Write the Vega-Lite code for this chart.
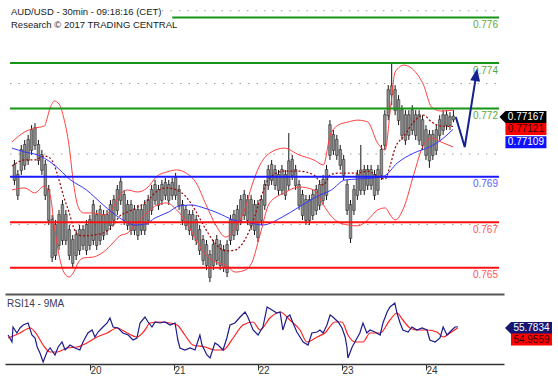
{
"$schema":"https://vega.github.io/schema/vega-lite/v6.json",
"padding":{"left":5,"top":3,"right":0,"bottom":0},
"spacing":1,
"config":{"view":{"stroke":null},"font":"Liberation Sans","text":{"font":"Liberation Sans"}},
"datasets":{
"candles":[
{"t":1,"o":0.76954,"h":0.76974,"l":0.76864,"c":0.76884},
{"t":2,"o":0.7691,"h":0.7693,"l":0.76798,"c":0.76818},
{"t":3,"o":0.76928,"h":0.7704,"l":0.76908,"c":0.7702},
{"t":4,"o":0.7695,"h":0.77062,"l":0.7693,"c":0.77042},
{"t":5,"o":0.76972,"h":0.77084,"l":0.76952,"c":0.77064},
{"t":6,"o":0.77016,"h":0.77127,"l":0.76996,"c":0.77107},
{"t":7,"o":0.77038,"h":0.77136,"l":0.77018,"c":0.77116},
{"t":8,"o":0.77042,"h":0.77062,"l":0.76952,"c":0.76972},
{"t":9,"o":0.76998,"h":0.77018,"l":0.76908,"c":0.76928},
{"t":10,"o":0.76954,"h":0.76974,"l":0.76798,"c":0.76818},
{"t":11,"o":0.76844,"h":0.76864,"l":0.76688,"c":0.76708},
{"t":12,"o":0.76712,"h":0.76732,"l":0.76525,"c":0.76545},
{"t":13,"o":0.7669,"h":0.7671,"l":0.76534,"c":0.76554},
{"t":14,"o":0.76598,"h":0.76754,"l":0.76578,"c":0.76734},
{"t":15,"o":0.7662,"h":0.76798,"l":0.766,"c":0.76778},
{"t":16,"o":0.76734,"h":0.76754,"l":0.766,"c":0.7662},
{"t":17,"o":0.76668,"h":0.76688,"l":0.76534,"c":0.76554},
{"t":18,"o":0.76624,"h":0.76644,"l":0.76499,"c":0.76519},
{"t":19,"o":0.76554,"h":0.76666,"l":0.76534,"c":0.76646},
{"t":20,"o":0.76576,"h":0.76688,"l":0.76556,"c":0.76668},
{"t":21,"o":0.76668,"h":0.76688,"l":0.76578,"c":0.76598},
{"t":22,"o":0.76576,"h":0.7671,"l":0.76556,"c":0.7669},
{"t":23,"o":0.76598,"h":0.76732,"l":0.76578,"c":0.76712},
{"t":24,"o":0.7662,"h":0.76798,"l":0.766,"c":0.76778},
{"t":25,"o":0.76734,"h":0.76754,"l":0.76578,"c":0.76598},
{"t":26,"o":0.7662,"h":0.76776,"l":0.766,"c":0.76756},
{"t":27,"o":0.76734,"h":0.76754,"l":0.76622,"c":0.76642},
{"t":28,"o":0.76664,"h":0.76754,"l":0.76644,"c":0.76734},
{"t":29,"o":0.76686,"h":0.76798,"l":0.76666,"c":0.76778},
{"t":30,"o":0.76708,"h":0.7682,"l":0.76688,"c":0.768},
{"t":31,"o":0.76752,"h":0.76864,"l":0.76732,"c":0.76844},
{"t":32,"o":0.76796,"h":0.76899,"l":0.76776,"c":0.76879},
{"t":33,"o":0.76822,"h":0.76842,"l":0.76688,"c":0.76708},
{"t":34,"o":0.76778,"h":0.76798,"l":0.76666,"c":0.76686},
{"t":35,"o":0.76778,"h":0.76798,"l":0.76644,"c":0.76664},
{"t":36,"o":0.76664,"h":0.76776,"l":0.76644,"c":0.76756},
{"t":37,"o":0.76756,"h":0.76776,"l":0.76622,"c":0.76642},
{"t":38,"o":0.76664,"h":0.76776,"l":0.76644,"c":0.76756},
{"t":39,"o":0.76664,"h":0.76798,"l":0.76644,"c":0.76778},
{"t":40,"o":0.76708,"h":0.7682,"l":0.76688,"c":0.768},
{"t":41,"o":0.76752,"h":0.76864,"l":0.76732,"c":0.76844},
{"t":42,"o":0.76796,"h":0.76886,"l":0.76776,"c":0.76866},
{"t":43,"o":0.76844,"h":0.76864,"l":0.76754,"c":0.76774},
{"t":44,"o":0.76796,"h":0.76886,"l":0.76776,"c":0.76866},
{"t":45,"o":0.76818,"h":0.76895,"l":0.76798,"c":0.76875},
{"t":46,"o":0.76866,"h":0.76886,"l":0.76776,"c":0.76796},
{"t":47,"o":0.76818,"h":0.76895,"l":0.76798,"c":0.76875},
{"t":48,"o":0.76818,"h":0.76917,"l":0.76798,"c":0.76897},
{"t":49,"o":0.76844,"h":0.76864,"l":0.76754,"c":0.76774},
{"t":50,"o":0.76778,"h":0.76798,"l":0.76688,"c":0.76708},
{"t":51,"o":0.76756,"h":0.76776,"l":0.76666,"c":0.76686},
{"t":52,"o":0.76734,"h":0.76754,"l":0.76644,"c":0.76664},
{"t":53,"o":0.76734,"h":0.76754,"l":0.76622,"c":0.76642},
{"t":54,"o":0.76712,"h":0.76732,"l":0.766,"c":0.7662},
{"t":55,"o":0.76668,"h":0.76688,"l":0.76556,"c":0.76576},
{"t":56,"o":0.76624,"h":0.76644,"l":0.76512,"c":0.76532},
{"t":57,"o":0.76602,"h":0.76622,"l":0.7649,"c":0.7651},
{"t":58,"o":0.76558,"h":0.76578,"l":0.76437,"c":0.76457},
{"t":59,"o":0.7651,"h":0.76622,"l":0.7649,"c":0.76602},
{"t":60,"o":0.76532,"h":0.76644,"l":0.76512,"c":0.76624},
{"t":61,"o":0.76602,"h":0.76622,"l":0.7649,"c":0.7651},
{"t":62,"o":0.7658,"h":0.766,"l":0.76481,"c":0.76501},
{"t":63,"o":0.76479,"h":0.76622,"l":0.76459,"c":0.76602},
{"t":64,"o":0.7662,"h":0.76732,"l":0.766,"c":0.76712},
{"t":65,"o":0.76642,"h":0.76754,"l":0.76622,"c":0.76734},
{"t":66,"o":0.76664,"h":0.76776,"l":0.76644,"c":0.76756},
{"t":67,"o":0.76708,"h":0.7682,"l":0.76688,"c":0.768},
{"t":68,"o":0.7673,"h":0.76842,"l":0.7671,"c":0.76822},
{"t":69,"o":0.768,"h":0.7682,"l":0.76688,"c":0.76708},
{"t":70,"o":0.768,"h":0.7682,"l":0.76666,"c":0.76686},
{"t":71,"o":0.76778,"h":0.76798,"l":0.76644,"c":0.76664},
{"t":72,"o":0.76778,"h":0.76798,"l":0.76613,"c":0.76633},
{"t":73,"o":0.76708,"h":0.7682,"l":0.76688,"c":0.768},
{"t":74,"o":0.76774,"h":0.76886,"l":0.76754,"c":0.76866},
{"t":75,"o":0.76862,"h":0.76952,"l":0.76842,"c":0.76932},
{"t":76,"o":0.76884,"h":0.76974,"l":0.76864,"c":0.76954},
{"t":77,"o":0.76932,"h":0.76952,"l":0.76842,"c":0.76862},
{"t":78,"o":0.7691,"h":0.7693,"l":0.7682,"c":0.7684},
{"t":79,"o":0.7684,"h":0.76952,"l":0.7682,"c":0.76932},
{"t":80,"o":0.7691,"h":0.7693,"l":0.76798,"c":0.76818},
{"t":81,"o":0.76862,"h":0.77092,"l":0.76842,"c":0.7697},
{"t":82,"o":0.76906,"h":0.76996,"l":0.76886,"c":0.76976},
{"t":83,"o":0.76932,"h":0.76952,"l":0.76842,"c":0.76862},
{"t":84,"o":0.76866,"h":0.76886,"l":0.76754,"c":0.76774},
{"t":85,"o":0.76822,"h":0.76842,"l":0.7671,"c":0.7673},
{"t":86,"o":0.768,"h":0.7682,"l":0.76688,"c":0.76708},
{"t":87,"o":0.76708,"h":0.7682,"l":0.76688,"c":0.768},
{"t":88,"o":0.7673,"h":0.76842,"l":0.7671,"c":0.76822},
{"t":89,"o":0.76752,"h":0.76864,"l":0.76732,"c":0.76844},
{"t":90,"o":0.76774,"h":0.76886,"l":0.76754,"c":0.76866},
{"t":91,"o":0.76796,"h":0.76908,"l":0.76776,"c":0.76888},
{"t":92,"o":0.76818,"h":0.76952,"l":0.76798,"c":0.76932},
{"t":93,"o":0.76994,"h":0.77149,"l":0.76974,"c":0.77129},
{"t":94,"o":0.77086,"h":0.77106,"l":0.76996,"c":0.77016},
{"t":95,"o":0.77064,"h":0.77084,"l":0.76974,"c":0.76994},
{"t":96,"o":0.7702,"h":0.7704,"l":0.7693,"c":0.7695},
{"t":97,"o":0.76976,"h":0.76996,"l":0.76886,"c":0.76906},
{"t":98,"o":0.76866,"h":0.76886,"l":0.76732,"c":0.76752},
{"t":99,"o":0.76778,"h":0.76798,"l":0.76609,"c":0.76629},
{"t":100,"o":0.76752,"h":0.76864,"l":0.76732,"c":0.76844},
{"t":101,"o":0.76818,"h":0.7693,"l":0.76798,"c":0.7691},
{"t":102,"o":0.7684,"h":0.7704,"l":0.7682,"c":0.7693},
{"t":103,"o":0.76932,"h":0.76952,"l":0.7682,"c":0.7684},
{"t":104,"o":0.76862,"h":0.76952,"l":0.76842,"c":0.76932},
{"t":105,"o":0.76932,"h":0.76952,"l":0.76842,"c":0.76862},
{"t":106,"o":0.7691,"h":0.7693,"l":0.76798,"c":0.76818},
{"t":107,"o":0.7684,"h":0.76952,"l":0.7682,"c":0.76932},
{"t":108,"o":0.76906,"h":0.7704,"l":0.76886,"c":0.7702},
{"t":109,"o":0.77038,"h":0.77193,"l":0.77018,"c":0.77173},
{"t":110,"o":0.77169,"h":0.77303,"l":0.77149,"c":0.77283},
{"t":111,"o":0.7726,"h":0.77404,"l":0.77215,"c":0.773},
{"t":112,"o":0.77283,"h":0.77303,"l":0.77171,"c":0.77191},
{"t":113,"o":0.77239,"h":0.77259,"l":0.77127,"c":0.77147},
{"t":114,"o":0.77195,"h":0.77215,"l":0.77062,"c":0.77082},
{"t":115,"o":0.77173,"h":0.77193,"l":0.7704,"c":0.7706},
{"t":116,"o":0.77082,"h":0.77193,"l":0.77062,"c":0.77173},
{"t":117,"o":0.77104,"h":0.77215,"l":0.77084,"c":0.77195},
{"t":118,"o":0.77173,"h":0.77193,"l":0.77062,"c":0.77082},
{"t":119,"o":0.77173,"h":0.77193,"l":0.7704,"c":0.7706},
{"t":120,"o":0.77151,"h":0.77171,"l":0.77018,"c":0.77038},
{"t":121,"o":0.77107,"h":0.77127,"l":0.76974,"c":0.76994},
{"t":122,"o":0.77086,"h":0.77106,"l":0.76939,"c":0.7697},
{"t":123,"o":0.76994,"h":0.77106,"l":0.76974,"c":0.77086},
{"t":124,"o":0.77016,"h":0.77127,"l":0.76996,"c":0.77107},
{"t":125,"o":0.77082,"h":0.77171,"l":0.77062,"c":0.77151},
{"t":126,"o":0.77104,"h":0.77193,"l":0.77084,"c":0.77173},
{"t":127,"o":0.77173,"h":0.77193,"l":0.77106,"c":0.77126},
{"t":128,"o":0.77126,"h":0.77184,"l":0.77106,"c":0.77164},
{"t":129,"o":0.7715,"h":0.77193,"l":0.7714,"c":0.77167}
],
"bb":[
{"t":0.3,"up":0.77053,"mid":0.76947,"lo":0.76842},
{"t":4,"up":0.77097,"mid":0.76974,"lo":0.76851},
{"t":6.9,"up":0.77114,"mid":0.76974,"lo":0.76829},
{"t":9.7,"up":0.77123,"mid":0.76991,"lo":0.76859},
{"t":11.4,"up":0.77202,"mid":0.76982,"lo":0.7682},
{"t":12.6,"up":0.77233,"mid":0.76952,"lo":0.76688},
{"t":14,"up":0.7722,"mid":0.76886,"lo":0.76556},
{"t":15.4,"up":0.77158,"mid":0.76811,"lo":0.76481},
{"t":16.9,"up":0.7704,"mid":0.76745,"lo":0.76459},
{"t":18.3,"up":0.76864,"mid":0.76675,"lo":0.76481},
{"t":19.7,"up":0.76763,"mid":0.76644,"lo":0.76525},
{"t":21.1,"up":0.76741,"mid":0.7664,"lo":0.76543},
{"t":24,"up":0.76741,"mid":0.76644,"lo":0.76547},
{"t":26.9,"up":0.76732,"mid":0.76653,"lo":0.76569},
{"t":29.7,"up":0.76763,"mid":0.76684,"lo":0.76609},
{"t":31.7,"up":0.7682,"mid":0.76727,"lo":0.7664},
{"t":34,"up":0.76842,"mid":0.76745,"lo":0.76653},
{"t":36.9,"up":0.76833,"mid":0.76767,"lo":0.76701},
{"t":39.7,"up":0.76851,"mid":0.76793,"lo":0.76741},
{"t":42.6,"up":0.76903,"mid":0.76837,"lo":0.76776},
{"t":45.4,"up":0.76921,"mid":0.76851,"lo":0.76785},
{"t":48.3,"up":0.7693,"mid":0.76842,"lo":0.76754},
{"t":51.1,"up":0.76916,"mid":0.76811,"lo":0.76701},
{"t":54,"up":0.76873,"mid":0.76745,"lo":0.76622},
{"t":56.9,"up":0.76776,"mid":0.76666,"lo":0.76556},
{"t":59.7,"up":0.76688,"mid":0.76604,"lo":0.76525},
{"t":62.6,"up":0.76635,"mid":0.76574,"lo":0.76512},
{"t":65.4,"up":0.76675,"mid":0.76578,"lo":0.76481},
{"t":68.3,"up":0.76763,"mid":0.76626,"lo":0.7649},
{"t":70.3,"up":0.76864,"mid":0.76692,"lo":0.76525},
{"t":72.6,"up":0.76952,"mid":0.76798,"lo":0.76644},
{"t":75.4,"up":0.77004,"mid":0.76895,"lo":0.76785},
{"t":79.7,"up":0.77026,"mid":0.76925,"lo":0.76829},
{"t":84,"up":0.76996,"mid":0.76925,"lo":0.76855},
{"t":88.3,"up":0.76974,"mid":0.76908,"lo":0.76842},
{"t":91.1,"up":0.76952,"mid":0.76864,"lo":0.76776},
{"t":93.1,"up":0.77084,"mid":0.76908,"lo":0.76732},
{"t":95.4,"up":0.77127,"mid":0.76916,"lo":0.76701},
{"t":98.3,"up":0.77141,"mid":0.76916,"lo":0.76688},
{"t":101.1,"up":0.77149,"mid":0.76916,"lo":0.76684},
{"t":104,"up":0.77141,"mid":0.76925,"lo":0.7671},
{"t":106.9,"up":0.77048,"mid":0.76903,"lo":0.76754},
{"t":109.1,"up":0.77018,"mid":0.7689,"lo":0.76763},
{"t":110.6,"up":0.77193,"mid":0.76952,"lo":0.76732},
{"t":112,"up":0.7736,"mid":0.77026,"lo":0.7671},
{"t":114.6,"up":0.77391,"mid":0.77079,"lo":0.76767},
{"t":117.4,"up":0.77369,"mid":0.77141,"lo":0.76908},
{"t":120.3,"up":0.77303,"mid":0.77171,"lo":0.7704},
{"t":122.6,"up":0.77207,"mid":0.77141,"lo":0.7707},
{"t":125.4,"up":0.77189,"mid":0.77123,"lo":0.77053},
{"t":128.9,"up":0.77193,"mid":0.77121,"lo":0.77031}
],
"ma":[
{"t":0.3,"p":0.77026},{"t":4,"p":0.77009},{"t":7.7,"p":0.76996},{"t":9.7,"p":0.76982},{"t":12.6,"p":0.76952},{"t":17.4,"p":0.76886},{"t":22,"p":0.76842},{"t":26.9,"p":0.76776},{"t":31.7,"p":0.76719},{"t":36.3,"p":0.76688},{"t":39.1,"p":0.76692},{"t":42,"p":0.76719},{"t":46,"p":0.76745},{"t":48.9,"p":0.76771},{"t":52.6,"p":0.76776},{"t":55.4,"p":0.76767},{"t":60.3,"p":0.76741},{"t":64.9,"p":0.7671},{"t":69.7,"p":0.76697},{"t":73.4,"p":0.76688},{"t":79.1,"p":0.76723},{"t":84,"p":0.76767},{"t":88.9,"p":0.76811},{"t":93.4,"p":0.76842},{"t":97.4,"p":0.76886},{"t":101.1,"p":0.7689},{"t":106,"p":0.76895},{"t":108.9,"p":0.76904},{"t":112.6,"p":0.7696},{"t":117.4,"p":0.77004},{"t":122,"p":0.77031},{"t":125.4,"p":0.77062},{"t":128.9,"p":0.77109}
],
"levels":[
{"v":0.776,"kind":"R","from":47},{"v":0.774,"kind":"R","from":-0.29},{"v":0.772,"kind":"R","from":-0.29},{"v":0.769,"kind":"P","from":-0.29},{"v":0.767,"kind":"S","from":-0.29},{"v":0.765,"kind":"S","from":-0.29}
],
"grid":[
{"v":0.7763,"from":44},{"v":0.7731,"from":-0.29},{"v":0.77,"from":-0.29},{"v":0.7669,"from":-0.29}
],
"rsi":[
{"t":0.6,"v":49.2},{"t":1.7,"v":43.6},{"t":2,"v":55.6},{"t":3.1,"v":50.8},{"t":4,"v":54.8},{"t":4.9,"v":57.2},{"t":6.3,"v":58.8},{"t":7.4,"v":49.2},{"t":8.3,"v":46.8},{"t":8.9,"v":39.6},{"t":9.7,"v":34.8},{"t":10.6,"v":27.6},{"t":11.7,"v":35.6},{"t":12.6,"v":38.8},{"t":14,"v":33.2},{"t":14.9,"v":39.6},{"t":16,"v":43.6},{"t":16.9,"v":37.2},{"t":18.3,"v":41.2},{"t":19.7,"v":38.8},{"t":21.1,"v":37.2},{"t":22,"v":43.6},{"t":23.4,"v":50.8},{"t":24.6,"v":53.2},{"t":25.4,"v":47.6},{"t":26.3,"v":51.6},{"t":27.7,"v":55.6},{"t":28.9,"v":58.8},{"t":29.7,"v":62.8},{"t":30.6,"v":55.6},{"t":32,"v":54.8},{"t":33.4,"v":50.8},{"t":34.9,"v":49.2},{"t":36.3,"v":45.2},{"t":37.4,"v":46.8},{"t":38.3,"v":58.8},{"t":39.7,"v":63.6},{"t":40.6,"v":59.6},{"t":41.7,"v":55.6},{"t":42.6,"v":59.6},{"t":44,"v":58.8},{"t":45.4,"v":59.6},{"t":46.9,"v":57.2},{"t":48.3,"v":58.8},{"t":49.1,"v":45.2},{"t":49.7,"v":38.8},{"t":51.1,"v":37.2},{"t":52.6,"v":38.8},{"t":54,"v":37.2},{"t":55.4,"v":49.2},{"t":56,"v":41.2},{"t":57.4,"v":33.2},{"t":58.3,"v":30.8},{"t":59.7,"v":42.8},{"t":60.6,"v":41.2},{"t":62,"v":37.2},{"t":63.1,"v":46.8},{"t":64,"v":57.2},{"t":65.4,"v":58.8},{"t":66.9,"v":63.6},{"t":68.3,"v":67.6},{"t":69.1,"v":63.6},{"t":70.6,"v":53.2},{"t":72,"v":49.2},{"t":73.4,"v":55.6},{"t":74.6,"v":71.6},{"t":76,"v":69.2},{"t":77.4,"v":66.8},{"t":78.3,"v":67.6},{"t":79.1,"v":53.2},{"t":80.3,"v":63.6},{"t":81.1,"v":65.2},{"t":82,"v":58.8},{"t":83.1,"v":51.6},{"t":84,"v":47.6},{"t":84.9,"v":43.6},{"t":86.3,"v":41.2},{"t":87.4,"v":50.8},{"t":88.9,"v":51.6},{"t":89.7,"v":53.2},{"t":90.6,"v":50.8},{"t":91.7,"v":57.2},{"t":92.6,"v":65.2},{"t":93.4,"v":63.6},{"t":94.9,"v":59.6},{"t":96,"v":54.8},{"t":96.9,"v":47.6},{"t":97.4,"v":39.6},{"t":97.7,"v":30.8},{"t":98.9,"v":39.6},{"t":99.7,"v":43.6},{"t":101.1,"v":50.8},{"t":102,"v":58.8},{"t":103.1,"v":50.8},{"t":104,"v":53.2},{"t":105.4,"v":51.6},{"t":106.9,"v":49.2},{"t":107.7,"v":58.8},{"t":108.9,"v":67.6},{"t":109.7,"v":71.6},{"t":111.1,"v":74.8},{"t":111.7,"v":66.8},{"t":112.6,"v":58.8},{"t":113.4,"v":53.2},{"t":114.9,"v":51.6},{"t":116,"v":55.6},{"t":117.4,"v":53.2},{"t":118.9,"v":54.8},{"t":120.3,"v":53.2},{"t":121.1,"v":45.2},{"t":122.6,"v":43.6},{"t":124,"v":46.8},{"t":124.9,"v":55.6},{"t":126,"v":49.2},{"t":127.4,"v":53.2},{"t":128.3,"v":55.6},{"t":129.1,"v":55.78}
],
"rsima":[
{"t":0.6,"v":46.8},{"t":4,"v":50.8},{"t":6.9,"v":54.8},{"t":8.9,"v":49.2},{"t":10.6,"v":41.2},{"t":12.6,"v":35.6},{"t":14.6,"v":35.6},{"t":17.4,"v":38.8},{"t":20.3,"v":39.6},{"t":23.1,"v":42.8},{"t":26,"v":47.6},{"t":28.9,"v":50.8},{"t":31.7,"v":54.8},{"t":34.6,"v":50.8},{"t":37.4,"v":47.6},{"t":39.7,"v":53.2},{"t":41.1,"v":58.8},{"t":44,"v":59.6},{"t":46.9,"v":58.8},{"t":48.9,"v":57.2},{"t":51.1,"v":49.2},{"t":53.4,"v":41.2},{"t":56.9,"v":39.6},{"t":59.7,"v":37.2},{"t":62,"v":37.2},{"t":64.9,"v":46.8},{"t":67.7,"v":57.2},{"t":70.6,"v":59.6},{"t":72.6,"v":53.2},{"t":75.4,"v":62.8},{"t":78.3,"v":67.6},{"t":81.1,"v":61.2},{"t":84,"v":53.2},{"t":86,"v":43.6},{"t":88.9,"v":47.6},{"t":91.1,"v":50.8},{"t":94,"v":59.6},{"t":96,"v":59.6},{"t":97.7,"v":49.2},{"t":99.7,"v":43.6},{"t":102,"v":43.6},{"t":104,"v":50.8},{"t":106.9,"v":50.8},{"t":109.7,"v":61.2},{"t":111.7,"v":66.8},{"t":113.4,"v":61.2},{"t":115.4,"v":54.8},{"t":117.4,"v":53.2},{"t":120.3,"v":53.2},{"t":123.1,"v":51.6},{"t":124.9,"v":47.6},{"t":126.9,"v":50.8},{"t":129.1,"v":54.96}
]
},
"vconcat":[
{
"width":499,"height":290,
"resolve":{"scale":{"color":"independent"}},
"layer":[
{"data":{"name":"grid"},"mark":{"type":"rule","color":"#a0a0a0","strokeDash":[1.5,7],"strokeWidth":1},
"encoding":{
"x":{"field":"from","type":"quantitative","scale":{"domain":[-0.29,142.29],"nice":false,"zero":false},"axis":{"orient":"top","ticks":false,"labels":false,"domainColor":"#111","domainWidth":1.5,"grid":false,"title":null}},
"x2":{"datum":142.29},
"y":{"field":"v","type":"quantitative","scale":{"domain":[0.76389,0.77664],"nice":false,"zero":false},"axis":{"orient":"right","values":[0.7669,0.77,0.7731,0.7763],"format":".4f","tickSize":4,"tickColor":"#111","domainColor":"#111","domainWidth":1.5,"labelPadding":11,"labelFontSize":10,"labelColor":"#333","grid":false,"title":null}}}},
{"data":{"name":"candles"},"mark":{"type":"rule","color":"#151515","strokeWidth":1},
"encoding":{"x":{"field":"t","type":"quantitative","axis":null},"y":{"field":"l","type":"quantitative","axis":null},"y2":{"field":"h"}}},
{"data":{"name":"candles"},"mark":{"type":"bar","width":2.6,"color":"#8e8e8e","stroke":"#1a1a1a","strokeWidth":0.5},
"encoding":{"x":{"field":"t","type":"quantitative","axis":null},"y":{"field":"o","type":"quantitative","axis":null},"y2":{"field":"c"}}},
{"data":{"name":"bb"},"mark":{"type":"line","color":"#ff4040","strokeWidth":1,"interpolate":"monotone"},
"encoding":{"x":{"field":"t","type":"quantitative","axis":null},"y":{"field":"up","type":"quantitative","axis":null}}},
{"data":{"name":"bb"},"mark":{"type":"line","color":"#ff4040","strokeWidth":1,"interpolate":"monotone"},
"encoding":{"x":{"field":"t","type":"quantitative","axis":null},"y":{"field":"lo","type":"quantitative","axis":null}}},
{"data":{"name":"bb"},"mark":{"type":"line","color":"#a00000","strokeWidth":1.2,"strokeDash":[2,2],"interpolate":"monotone"},
"encoding":{"x":{"field":"t","type":"quantitative","axis":null},"y":{"field":"mid","type":"quantitative","axis":null}}},
{"data":{"name":"ma"},"mark":{"type":"line","color":"#3535ff","strokeWidth":1,"interpolate":"monotone"},
"encoding":{"x":{"field":"t","type":"quantitative","axis":null},"y":{"field":"p","type":"quantitative","axis":null}}},
{"data":{"name":"levels"},"mark":{"type":"rule","strokeWidth":2},
"encoding":{"x":{"field":"from","type":"quantitative","axis":null},"x2":{"datum":142.29},"y":{"field":"v","type":"quantitative","axis":null},
"color":{"field":"kind","type":"nominal","scale":{"domain":["R","P","S"],"range":["#159515","#1a1aff","#ff1010"]},"legend":null}}},
{"data":{"name":"levels"},"mark":{"type":"text","align":"right","baseline":"middle","dx":-1,"dy":7.5,"fontSize":10},
"encoding":{"x":{"datum":142.29,"type":"quantitative","axis":null},"y":{"field":"v","type":"quantitative","axis":null},"text":{"field":"v","type":"quantitative","format":".3f"},
"color":{"field":"kind","type":"nominal","scale":{"domain":["R","P","S"],"range":["#5fa83a","#5c5cff","#ff5555"]},"legend":null}}},
{"data":{"values":[{"t":129.7,"p":0.77163},{"t":132.3,"p":0.77031},{"t":135.4,"p":0.77325}]},"mark":{"type":"line","color":"#14218f","strokeWidth":2},
"encoding":{"x":{"field":"t","type":"quantitative","axis":null},"y":{"field":"p","type":"quantitative","axis":null}}},
{"data":{"values":[{"t":135.57,"p":0.77343}]},"mark":{"type":"point","shape":"M0,-1.5L-1,1L1,1Z","size":100,"filled":true,"color":"#14218f","opacity":1,"angle":9},
"encoding":{"x":{"field":"t","type":"quantitative","axis":null},"y":{"field":"p","type":"quantitative","axis":null}}},
{"data":{"values":[{"l1":"AUD/USD - 30min - 09:18:16 (CET)","l2":"Research © 2017 TRADING CENTRAL"}]},"layer":[
{"mark":{"type":"text","align":"left","baseline":"top","dx":1,"dy":4,"fontSize":9.5,"color":"#1a1a1a"},
"encoding":{"x":{"datum":-0.29,"type":"quantitative","axis":null},"y":{"datum":0.77664,"type":"quantitative","axis":null},"text":{"field":"l1"}}},
{"mark":{"type":"text","align":"left","baseline":"top","dx":1,"dy":17,"fontSize":9.5,"color":"#1a1a1a"},
"encoding":{"x":{"datum":-0.29,"type":"quantitative","axis":null},"y":{"datum":0.77664,"type":"quantitative","axis":null},"text":{"field":"l2"}}}]},
{"data":{"values":[{"label":"0.77167","v":0.77167}]},"layer":[
{"mark":{"type":"point","shape":"M-1.29,0L-1,-0.29L1,-0.29L1,0.29L-1,0.29Z","size":1681,"filled":true,"color":"#000000","opacity":1,"yOffset":1},
"encoding":{"x":{"datum":150.14,"type":"quantitative","axis":null},"y":{"field":"v","type":"quantitative","axis":null}}},
{"mark":{"type":"text","color":"#ffffff","fontSize":10,"align":"center","baseline":"middle","yOffset":1},
"encoding":{"x":{"datum":150.14,"type":"quantitative","axis":null},"y":{"field":"v","type":"quantitative","axis":null},"text":{"field":"label"}}}]},
{"data":{"values":[{"label":"0.77121","v":0.77121}]},"layer":[
{"mark":{"type":"point","shape":"M-1,-0.29L1,-0.29L1,0.29L-1,0.29Z","size":1681,"filled":true,"color":"#ff0000","opacity":1,"yOffset":2.5},
"encoding":{"x":{"datum":150.14,"type":"quantitative","axis":null},"y":{"field":"v","type":"quantitative","axis":null}}},
{"mark":{"type":"text","color":"#3a0000","fontSize":10,"align":"center","baseline":"middle","yOffset":2.5},
"encoding":{"x":{"datum":150.14,"type":"quantitative","axis":null},"y":{"field":"v","type":"quantitative","axis":null},"text":{"field":"label"}}}]},
{"data":{"values":[{"label":"0.77109","v":0.77109}]},"layer":[
{"mark":{"type":"point","shape":"M-1,-0.29L1,-0.29L1,0.29L-1,0.29Z","size":1681,"filled":true,"color":"#1010ff","opacity":1,"yOffset":13},
"encoding":{"x":{"datum":150.14,"type":"quantitative","axis":null},"y":{"field":"v","type":"quantitative","axis":null}}},
{"mark":{"type":"text","color":"#ffffff","fontSize":10,"align":"center","baseline":"middle","yOffset":13},
"encoding":{"x":{"datum":150.14,"type":"quantitative","axis":null},"y":{"field":"v","type":"quantitative","axis":null},"text":{"field":"label"}}}]}
]
},
{
"width":499,"height":70,
"resolve":{"axis":{"x":"independent"}},
"layer":[
{"data":{"name":"rsima"},"mark":{"type":"line","color":"#ff2020","strokeWidth":1.2,"interpolate":"monotone"},
"encoding":{
"x":{"field":"t","type":"quantitative","scale":{"domain":[-0.29,142.29],"nice":false,"zero":false},"axis":{"orient":"top","ticks":false,"labels":false,"domainColor":"#555","domainWidth":2,"grid":false,"title":null}},
"y":{"field":"v","type":"quantitative","scale":{"domain":[26,82],"nice":false,"zero":false},"axis":{"orient":"right","values":[30,50,70],"labelExpr":"datum.value == 50 ? '' : datum.label","tickSize":4,"tickColor":"#111","domainColor":"#111","domainWidth":1.5,"labelPadding":30,"labelFontSize":10,"labelColor":"#333","grid":true,"gridColor":"#a0a0a0","gridDash":[1.5,7],"title":null}}}},
{"data":{"name":"rsi"},"mark":{"type":"line","color":"#1c1c8c","strokeWidth":1.2},
"encoding":{
"x":{"field":"t","type":"quantitative","axis":{"orient":"bottom","values":[24,48,72,96,120],"labelExpr":"datum.value/24+19","tickSize":6,"tickColor":"#333","domainColor":"#333","domainWidth":1.5,"labelAlign":"left","labelBaseline":"middle","labelPadding":0.5,"labelDx":3,"labelFontSize":10,"labelColor":"#333","grid":false,"title":null}},
"y":{"field":"v","type":"quantitative","axis":null}}},
{"data":{"values":[{"name":"RSI14 - 9MA"}]},"mark":{"type":"text","align":"left","baseline":"top","dx":2,"dy":5,"fontSize":10,"color":"#3a3a5a"},
"encoding":{"x":{"datum":-0.29,"type":"quantitative","axis":null},"y":{"datum":82,"type":"quantitative","axis":null},"text":{"field":"name"}}},
{"data":{"values":[{"label":"55.7834","v":55.7834}]},"layer":[
{"mark":{"type":"point","shape":"M-1.29,0L-1,-0.29L1,-0.29L1,0.29L-1,0.29Z","size":1681,"filled":true,"color":"#161670","opacity":1,"yOffset":1.2},
"encoding":{"x":{"datum":150.14,"type":"quantitative","axis":null},"y":{"field":"v","type":"quantitative","axis":null}}},
{"mark":{"type":"text","color":"#ffffff","fontSize":10,"align":"center","baseline":"middle","yOffset":1.2},
"encoding":{"x":{"datum":150.14,"type":"quantitative","axis":null},"y":{"field":"v","type":"quantitative","axis":null},"text":{"field":"label"}}}]},
{"data":{"values":[{"label":"54.9559","v":54.9559}]},"layer":[
{"mark":{"type":"point","shape":"M-1,-0.29L1,-0.29L1,0.29L-1,0.29Z","size":1681,"filled":true,"color":"#ff0000","opacity":1,"yOffset":11.7},
"encoding":{"x":{"datum":150.14,"type":"quantitative","axis":null},"y":{"field":"v","type":"quantitative","axis":null}}},
{"mark":{"type":"text","color":"#3a0000","fontSize":10,"align":"center","baseline":"middle","yOffset":11.7},
"encoding":{"x":{"datum":150.14,"type":"quantitative","axis":null},"y":{"field":"v","type":"quantitative","axis":null},"text":{"field":"label"}}}]}
]
}
]
}
